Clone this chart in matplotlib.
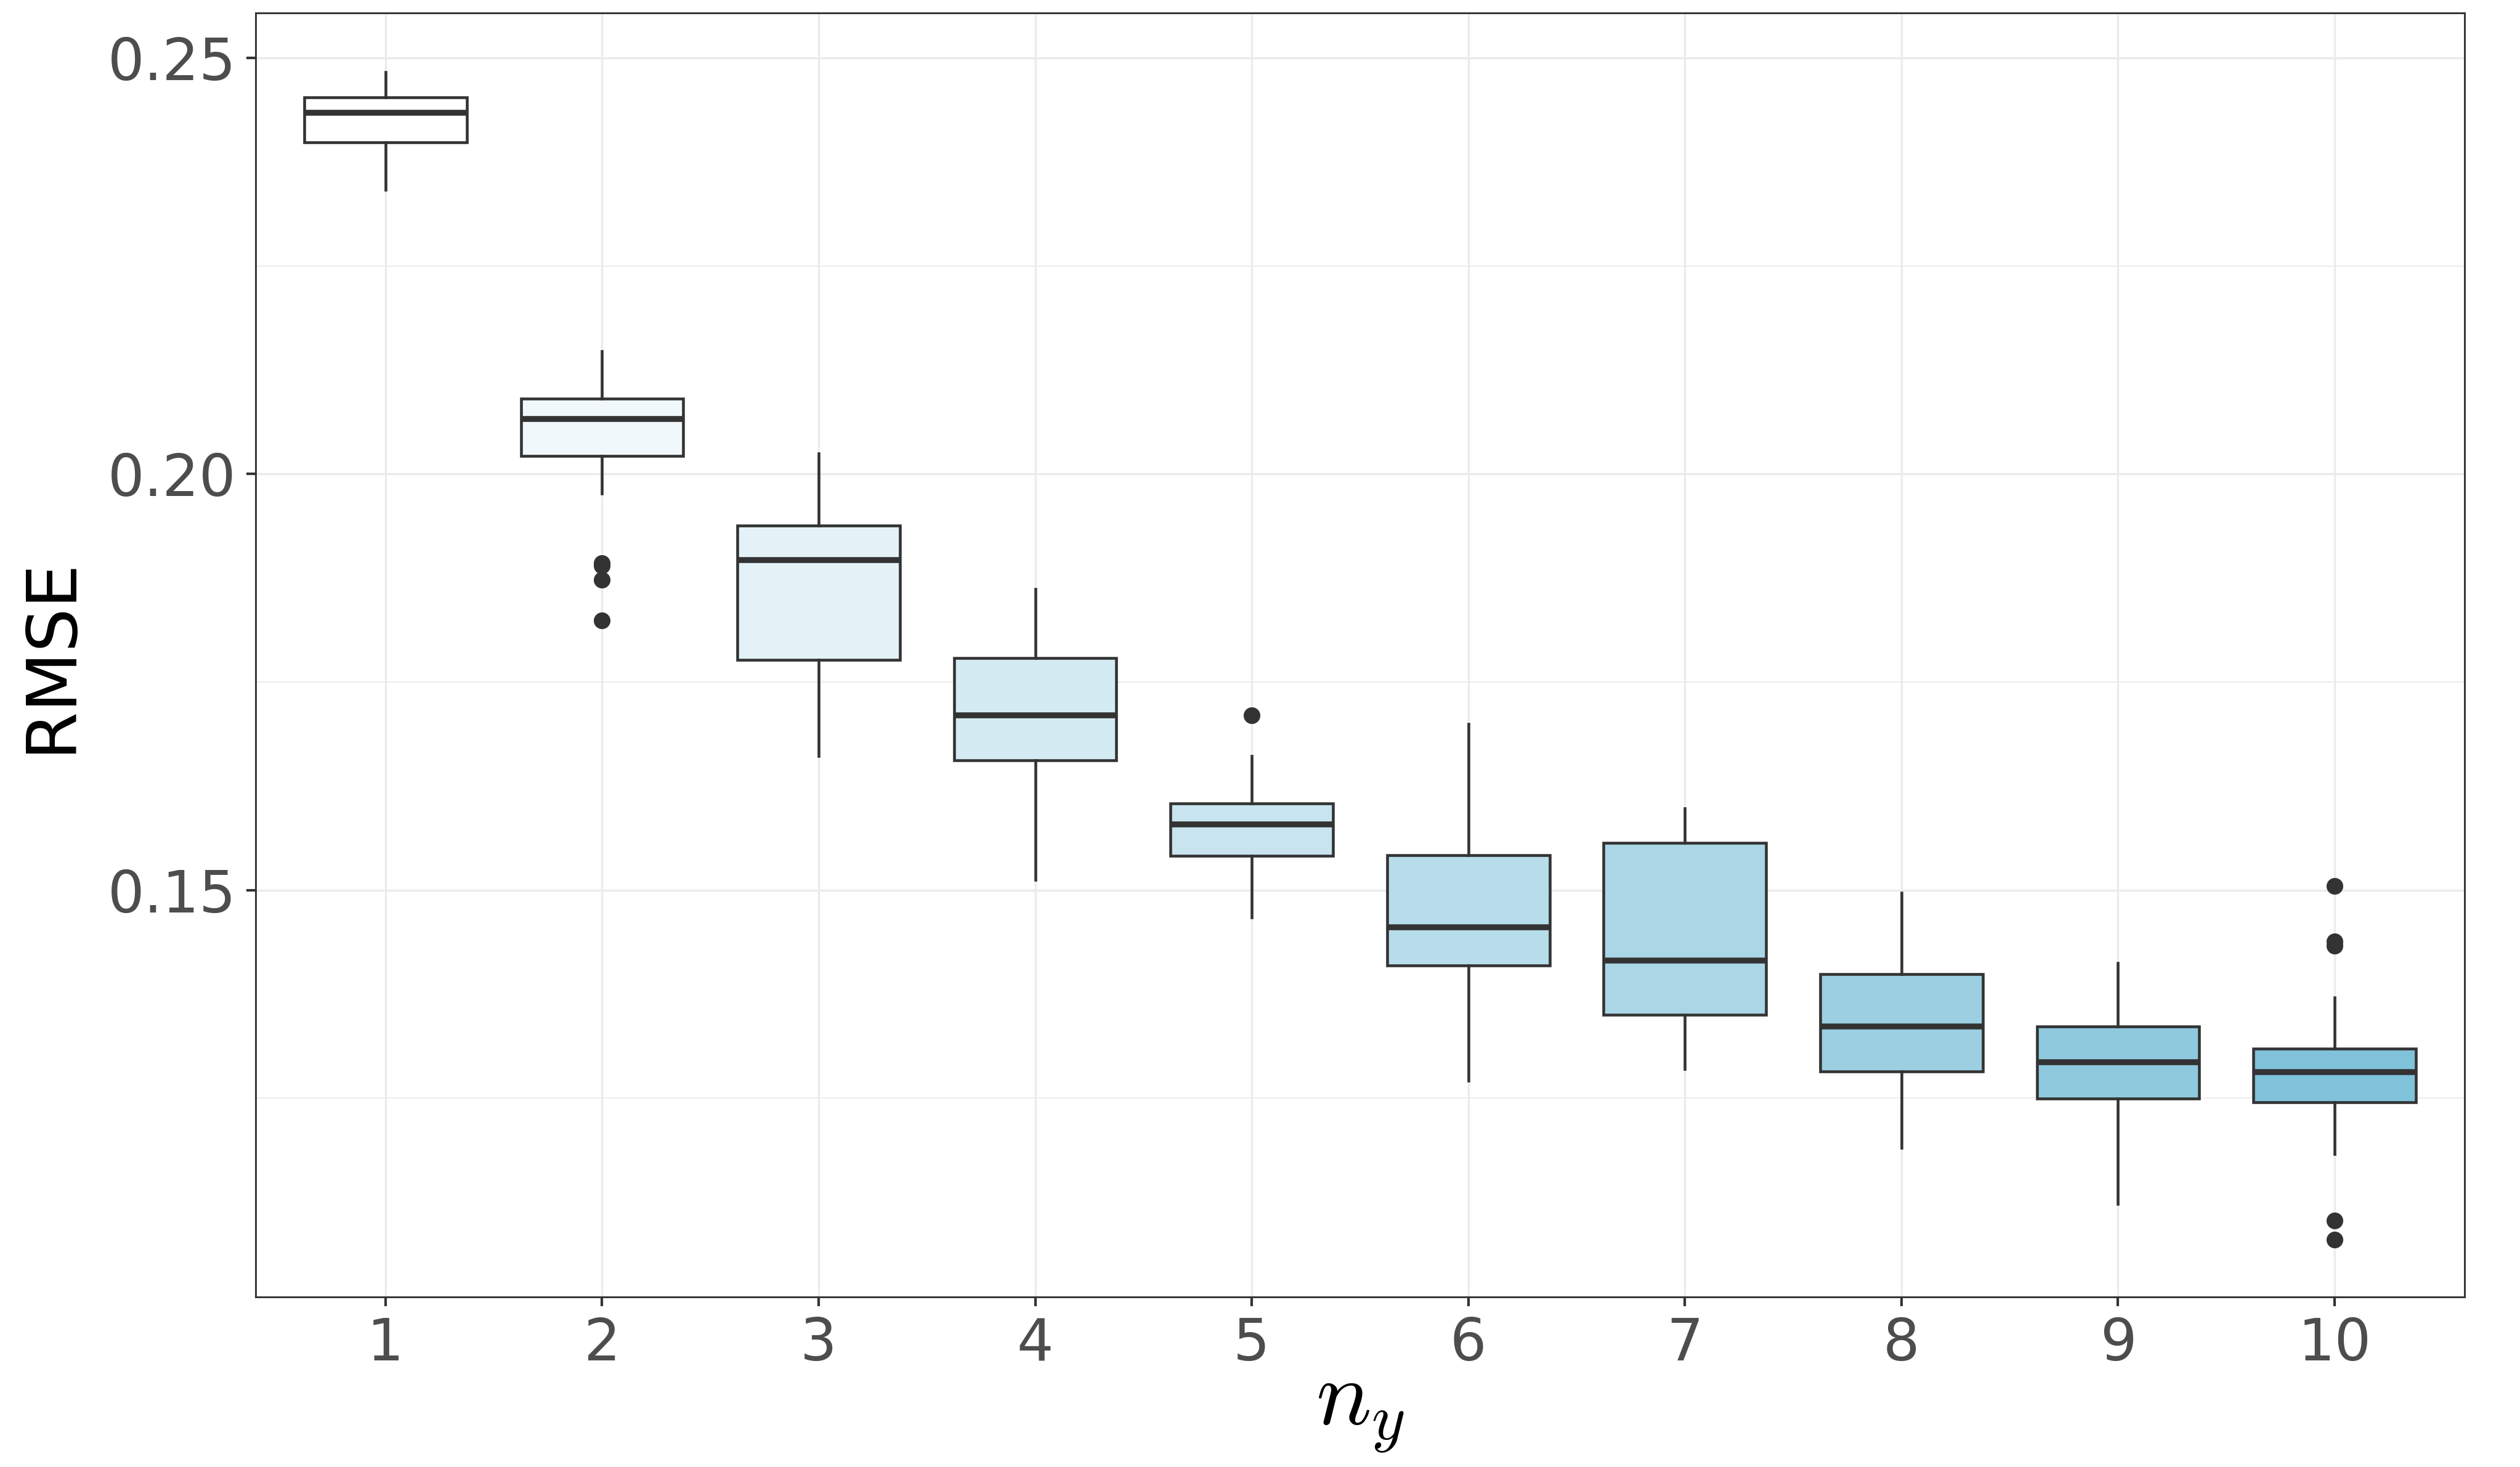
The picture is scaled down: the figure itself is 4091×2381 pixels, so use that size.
import matplotlib
matplotlib.use("Agg")
import matplotlib.pyplot as plt
from matplotlib.colors import LinearSegmentedColormap
from matplotlib.ticker import MultipleLocator

# box statistics, one entry per n_y
n_y = [1, 2, 3, 4, 5, 6, 7, 8, 9, 10]
whislo = [0.2342, 0.1977, 0.1661, 0.1512, 0.1467, 0.1271, 0.1285, 0.1190, 0.1123, 0.1183]
q1 = [0.2399, 0.2022, 0.1777, 0.1656, 0.1541, 0.1409, 0.1350, 0.1282, 0.1249, 0.1245]
median = [0.2434, 0.2066, 0.1897, 0.1710, 0.1579, 0.1455, 0.1415, 0.1336, 0.1293, 0.1281]
q3 = [0.2453, 0.2091, 0.1938, 0.1779, 0.1604, 0.1542, 0.1557, 0.1399, 0.1336, 0.1309]
whishi = [0.2483, 0.2148, 0.2025, 0.1862, 0.1661, 0.1700, 0.1598, 0.1497, 0.1412, 0.1371]
outliers = [
    [],
    [0.1893, 0.1890, 0.1873, 0.1824],
    [],
    [],
    [0.1710],
    [],
    [],
    [],
    [],
    [0.1505, 0.1438, 0.1433, 0.1103, 0.1080],
]

stats = [dict(label=str(n), whislo=lo, q1=a, med=m, q3=b, whishi=hi, fliers=f)
         for n, lo, a, m, b, hi, f in zip(n_y, whislo, q1, median, q3, whishi, outliers)]

plt.rcParams["mathtext.fontset"] = "cm"
fill = LinearSegmentedColormap.from_list("fill", ["#FFFFFF", "#80C2DA"])
dark = "#333333"

fig = plt.figure(figsize=(4091 / 300, 2381 / 300), dpi=300)
ax = fig.add_axes([0.1014, 0.116, 0.8766, 0.875])

bp = ax.bxp(stats, positions=n_y, widths=0.75, patch_artist=True, showcaps=False,
            boxprops=dict(edgecolor=dark, linewidth=1.1),
            whiskerprops=dict(color=dark, linewidth=1.1),
            medianprops=dict(color=dark, linewidth=2.3, solid_capstyle="butt"),
            flierprops=dict(marker="o", markerfacecolor=dark, markeredgecolor=dark,
                            markersize=5.5, linestyle="none"),
            zorder=3)
for i, patch in enumerate(bp["boxes"]):
    patch.set_facecolor(fill(i / (len(n_y) - 1)))

ax.set_xlim(0.4, 10.6)
ax.set_ylim(0.1011, 0.2554)
ax.yaxis.set_minor_locator(MultipleLocator(0.025))
ax.set_yticks([0.15, 0.20, 0.25])
ax.set_yticklabels(["0.15", "0.20", "0.25"])
ax.set_xticks(n_y)
ax.set_xticklabels([str(n) for n in n_y])

ax.grid(True, which="major", color="#EBEBEB", linewidth=0.8, zorder=0)
ax.grid(True, which="minor", axis="y", color="#EBEBEB", linewidth=0.45, zorder=0)
ax.set_axisbelow(True)
ax.tick_params(which="major", length=3.5, width=1.0, color=dark, labelsize=22.5,
               labelcolor="#4D4D4D", pad=4)
ax.tick_params(which="minor", length=0)
for s in ax.spines.values():
    s.set_color(dark)
    s.set_linewidth(0.7)

ax.set_ylabel("RMSE", fontsize=27, color="black", labelpad=9)
ax.set_xlabel(r"$n_y$", fontsize=36, color="black", labelpad=-3)

fig.savefig("out.png", dpi=300)
